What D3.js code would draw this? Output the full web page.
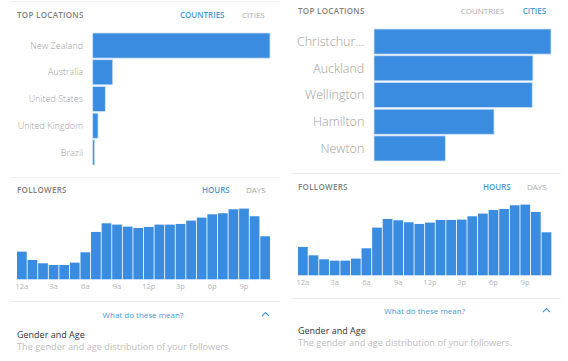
<!DOCTYPE html>
<html>
<head>
<meta charset="utf-8">
<script src="https://cdn.jsdelivr.net/npm/d3@7"></script>
<style>
  body { margin: 0; background: #fff; }
  svg { display: block; font-family: "Open Sans", "Noto Sans", sans-serif; }
</style>
</head>
<body>
<script>
// data
const countries = ["New Zealand", "Australia", "United States", "United Kingdom", "Brazil"];
const countryValues = [100, 11.3, 7.1, 3.0, 1.1];
const cities = ["Christchur...", "Auckland", "Wellington", "Hamilton", "Newton"];
const cityValues = [100, 89.8, 89.4, 67.8, 40.3];
const hours = d3.range(24);
const hourTickLabels = ["12a", "3a", "6a", "9a", "12p", "3p", "6p", "9p"];
const followersLeft = [83, 58, 48, 43, 43, 50, 81, 142, 168, 164, 158, 154, 157, 164, 164, 166, 176, 185, 195, 198, 210, 212, 189, 129];
const followersRight = [85, 60, 48, 44, 44, 50, 81, 143, 169, 165, 159, 154, 158, 166, 166, 167, 177, 185, 196, 199, 210, 212, 190, 129];

const W = 568, H = 361;
const blue = "#3a8ce0";
const linkBlue = "#4a9ad6";

const svg = d3.select("body").append("svg")
  .attr("width", W)
  .attr("height", H);

function drawPanel(p) {
  const g = svg.append("g");

  // separators
  p.lines.forEach(y => {
    g.append("line")
      .attr("x1", p.x0 - 7).attr("x2", p.x1 + 10)
      .attr("y1", y).attr("y2", y)
      .attr("stroke", "#eeeeee");
  });

  // section headers
  const header = (y, title, a, b, activeFirst, aX, bX) => {
    g.append("text").attr("x", p.x0).attr("y", y)
      .attr("font-size", 8).attr("fill", "#808080").attr("font-weight", 600)
      .attr("letter-spacing", 0.3).text(title);
    g.append("text").attr("x", aX).attr("y", y)
      .attr("font-size", 8).attr("fill", activeFirst ? linkBlue : "#aaa")
      .attr("font-weight", activeFirst ? 600 : 400).text(a);
    g.append("text").attr("x", bX).attr("y", y)
      .attr("font-size", 8).attr("fill", activeFirst ? "#aaa" : linkBlue)
      .attr("font-weight", activeFirst ? 400 : 600).text(b);
  };
  header(p.topY, "TOP LOCATIONS", "COUNTRIES", "CITIES", p.countriesActive, p.tabA, p.tabB);
  header(p.folY, "FOLLOWERS", "HOURS", "DAYS", true, p.tabH, p.tabD);

  // top locations bars
  const y = d3.scaleBand()
    .domain(p.names)
    .range([p.locTop, p.locBottom])
    .paddingInner(0.06);
  const x = d3.scaleLinear()
    .domain([0, 100])
    .range([p.barX, p.x1]);

  g.selectAll(".loc")
    .data(p.values)
    .enter().append("rect")
    .attr("class", "loc")
    .attr("x", x(0))
    .attr("y", (d, i) => y(p.names[i]))
    .attr("width", d => x(d) - x(0))
    .attr("height", y.bandwidth())
    .attr("fill", blue)
    .attr("stroke", "#cfe2f6")
    .attr("stroke-width", 0.8);

  g.selectAll(".locLabel")
    .data(p.names)
    .enter().append("text")
    .attr("x", p.labelX)
    .attr("y", d => y(d) + y.bandwidth() / 2)
    .attr("dy", "0.35em")
    .attr("text-anchor", "end")
    .attr("font-size", p.labelSize)
    .attr("font-weight", 300)
    .attr("fill", "#a0a0a0")
    .text(d => d);

  // followers by hour
  const hx = d3.scaleBand()
    .domain(hours)
    .range([p.x0, p.hourRight])
    .paddingInner(0.08);
  const hy = d3.scaleLinear()
    .domain([0, 212])
    .range([p.baseY, p.baseY - 70.7]);

  g.selectAll(".hour")
    .data(p.hoursData)
    .enter().append("rect")
    .attr("class", "hour")
    .attr("x", (d, i) => hx(i))
    .attr("y", d => hy(d))
    .attr("width", hx.bandwidth())
    .attr("height", d => hy(0) - hy(d))
    .attr("fill", blue);

  const axis = d3.axisBottom(hx)
    .tickValues(d3.range(0, 24, 3))
    .tickSize(0)
    .tickPadding(4)
    .tickFormat(d => hourTickLabels[d / 3]);
  const ax = g.append("g")
    .attr("transform", `translate(0,${p.baseY})`)
    .call(axis);
  ax.select(".domain").remove();
  ax.selectAll("text")
    .attr("font-size", 7.5)
    .attr("fill", "#b5b5b5")
    .attr("font-family", "Open Sans, sans-serif");

  // footer
  g.append("text").attr("x", p.meanX).attr("y", p.meanY)
    .attr("text-anchor", "middle").attr("font-size", 8)
    .attr("fill", linkBlue).text("What do these mean?");
  g.append("path")
    .attr("d", `M${p.x1 - 8},${p.meanY - 2} l3.5,-3.5 l3.5,3.5`)
    .attr("fill", "none").attr("stroke", linkBlue).attr("stroke-width", 1.1);
  g.append("text").attr("x", p.x0).attr("y", p.genderY)
    .attr("font-size", 9).attr("fill", "#333").text("Gender and Age");
  g.append("text").attr("x", p.x0).attr("y", p.genderY + 12.5)
    .attr("font-size", 9.2).attr("fill", "#bdbdbd")
    .text("The gender and age distribution of your followers.");
}

drawPanel({
  x0: 17, x1: 270, hourRight: 270,
  lines: [1.5, 177.5, 301.5],
  topY: 17.5, folY: 193, countriesActive: true,
  tabA: 180, tabB: 242, tabH: 202, tabD: 246,
  names: countries, values: countryValues,
  locTop: 33, locBottom: 165, barX: 92.7, labelX: 83, labelSize: 9,
  hoursData: followersLeft, baseY: 279.3,
  meanX: 143, meanY: 318, genderY: 337.5
});

drawPanel({
  x0: 298, x1: 551, hourRight: 551.3,
  lines: [173.5, 298.5],
  topY: 13.5, folY: 189.5, countriesActive: false,
  tabA: 460.7, tabB: 522.7, tabH: 483, tabD: 527,
  names: cities, values: cityValues,
  locTop: 29, locBottom: 161, barX: 374, labelX: 364.3, labelSize: 12.5,
  hoursData: followersRight, baseY: 275.3,
  meanX: 424.7, meanY: 314, genderY: 333.5
});
</script>
</body>
</html>
